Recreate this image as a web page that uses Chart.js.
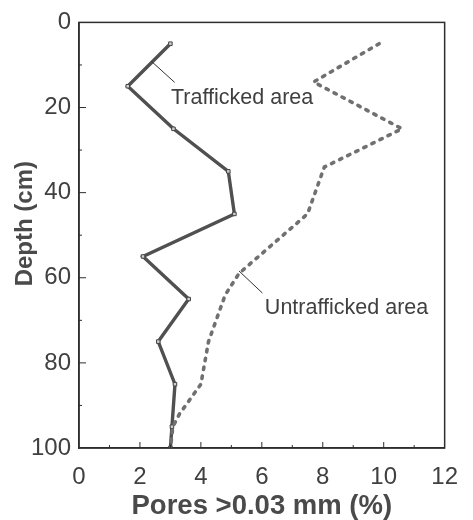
<!DOCTYPE html>
<html>
<head>
<meta charset="utf-8">
<script src="https://cdn.jsdelivr.net/npm/chart.js@4"></script>
<style>
html, body { margin: 0; padding: 0; background: #fff; }
#wrap { width: 473px; height: 520px; position: relative; }
</style>
</head>
<body>
<div id="wrap"><canvas id="chart"></canvas></div>
<script>
// Data
const depthTrafficked = [5, 15, 25, 35, 45, 55, 65, 75, 85, 95, 100];
const poresTrafficked = [3.0, 1.6, 3.1, 4.9, 5.1, 2.1, 3.6, 2.6, 3.15, 3.05, 3.0];

const depthUntrafficked = [5, 14, 25, 34, 45, 59, 64, 75, 85, 92, 95, 100];
const poresUntrafficked = [9.85, 7.7, 10.6, 8.05, 7.5, 5.25, 4.8, 4.25, 4.0, 3.3, 3.08, 3.0];

const xTickLabels = [0, 2, 4, 6, 8, 10, 12];
const depthTickLabels = [0, 20, 40, 60, 80, 100];
const xTickMarks = [1, 2, 3, 4, 5, 6, 7, 8, 9, 10, 11];
const depthTickMarks = [10, 20, 30, 40, 50, 60, 70, 80, 90];

const seriesNames = ['Trafficked area', 'Untrafficked area'];
const yTitle = 'Depth (cm)';

// callouts, in data units (pores %, depth cm)
const callouts = [
    { text: seriesNames[0], tx: 3.02, ty: 19.1, from: [2.37, 9.1], to: [3.14, 14.1] },
    { text: seriesNames[1], tx: 6.1, ty: 68.4, from: [5.25, 58.4], to: [6.02, 63.6] }
];

const toPoints = (xs, ys) => xs.map((v, i) => ({ x: v, y: ys[i] }));

const fontFamily = '"Liberation Sans", Arial, sans-serif';
const textColor = '#404040';
const axisColor = '#2e2e2e';

const framePlugin = {
    id: 'frame',
    afterDraw(chart) {
        const { ctx, chartArea: a, scales: { x, y } } = chart;
        ctx.save();
        ctx.strokeStyle = axisColor;
        ctx.lineWidth = 1.5;
        ctx.strokeRect(a.left, a.top, a.right - a.left, a.bottom - a.top);

        // inward tick marks
        ctx.lineWidth = 1;
        ctx.beginPath();
        xTickMarks.forEach(v => {
            const px = x.getPixelForValue(v);
            const len = v % 2 === 0 ? 6 : 3;
            ctx.moveTo(px, a.bottom);
            ctx.lineTo(px, a.bottom - len);
        });
        depthTickMarks.forEach(v => {
            const py = y.getPixelForValue(v);
            const len = v % 20 === 0 ? 7 : 3;
            ctx.moveTo(a.left, py);
            ctx.lineTo(a.left + len, py);
        });
        ctx.stroke();

        // callouts
        ctx.fillStyle = textColor;
        ctx.font = '21.5px ' + fontFamily;
        ctx.textAlign = 'left';
        ctx.textBaseline = 'alphabetic';
        callouts.forEach(c => {
            ctx.beginPath();
            ctx.strokeStyle = '#333';
            ctx.lineWidth = 1;
            ctx.moveTo(x.getPixelForValue(c.from[0]), y.getPixelForValue(c.from[1]));
            ctx.lineTo(x.getPixelForValue(c.to[0]), y.getPixelForValue(c.to[1]));
            ctx.stroke();
            ctx.fillText(c.text, x.getPixelForValue(c.tx), y.getPixelForValue(c.ty));
        });

        // y axis title, sits a bit above the plot's middle in the original
        ctx.save();
        ctx.translate(25, y.getPixelForValue(47.3));
        ctx.rotate(-Math.PI / 2);
        ctx.textAlign = 'center';
        ctx.textBaseline = 'middle';
        ctx.fillStyle = '#4a4a4a';
        ctx.font = 'bold 24px ' + fontFamily;
        ctx.fillText(yTitle, 0, 0);
        ctx.restore();

        ctx.restore();
    }
};

const ctx = document.getElementById('chart').getContext('2d');

new Chart(ctx, {
    type: 'scatter',
    data: {
        datasets: [
            {
                label: seriesNames[1],
                data: toPoints(poresUntrafficked, depthUntrafficked),
                showLine: true,
                borderColor: '#707070',
                borderWidth: 3.6,
                borderDash: [2.5, 6.5],
                borderCapStyle: 'round',
                pointRadius: 0,
                tension: 0
            },
            {
                label: seriesNames[1] + ' core',
                data: toPoints(poresUntrafficked, depthUntrafficked),
                showLine: true,
                borderColor: '#dadada',
                borderWidth: 1.2,
                borderDash: [2.5, 6.5],
                borderCapStyle: 'round',
                pointRadius: 0,
                tension: 0
            },
            {
                label: seriesNames[0],
                data: toPoints(poresTrafficked, depthTrafficked),
                showLine: true,
                borderColor: '#505050',
                borderWidth: 3.4,
                pointRadius: 2.5,
                pointStyle: 'rect',
                pointBackgroundColor: '#cfcfcf',
                pointBorderColor: '#444',
                pointBorderWidth: 1,
                tension: 0
            },
            {
                label: seriesNames[0] + ' core',
                data: toPoints(poresTrafficked, depthTrafficked),
                showLine: true,
                borderColor: '#b0b0b0',
                borderWidth: 1.2,
                pointRadius: 0,
                tension: 0
            }
        ]
    },
    options: {
        responsive: true,
        maintainAspectRatio: false,
        animation: false,
        layout: { padding: { top: 21, right: 19, left: 0, bottom: 0 } },
        plugins: {
            legend: { display: false },
            tooltip: { enabled: false }
        },
        scales: {
            x: {
                type: 'linear',
                position: 'bottom',
                min: 0,
                max: 12,
                afterBuildTicks: s => { s.ticks = xTickLabels.map(v => ({ value: v })); },
                afterFit: s => { s.height = 72; },
                grid: { display: false, drawTicks: false },
                border: { display: true, color: axisColor, width: 1.5 },
                ticks: {
                    color: textColor,
                    padding: 15,
                    maxRotation: 0,
                    font: { family: fontFamily, size: 24 }
                },
                title: {
                    display: true,
                    text: 'Pores >0.03 mm (%)',
                    color: '#4a4a4a',
                    padding: { top: 0, bottom: 0 },
                    font: { family: fontFamily, size: 27.5, weight: 'bold', lineHeight: 1 }
                }
            },
            y: {
                type: 'linear',
                reverse: true,
                min: 0,
                max: 100,
                afterBuildTicks: s => { s.ticks = depthTickLabels.map(v => ({ value: v })); },
                afterFit: s => { s.width = 79; },
                grid: { display: false, drawTicks: false },
                border: { display: true, color: axisColor, width: 1.5 },
                ticks: {
                    color: textColor,
                    padding: 8,
                    font: { family: fontFamily, size: 24 }
                },
                title: { display: false }
            }
        }
    },
    plugins: [framePlugin]
});
</script>
</body>
</html>
